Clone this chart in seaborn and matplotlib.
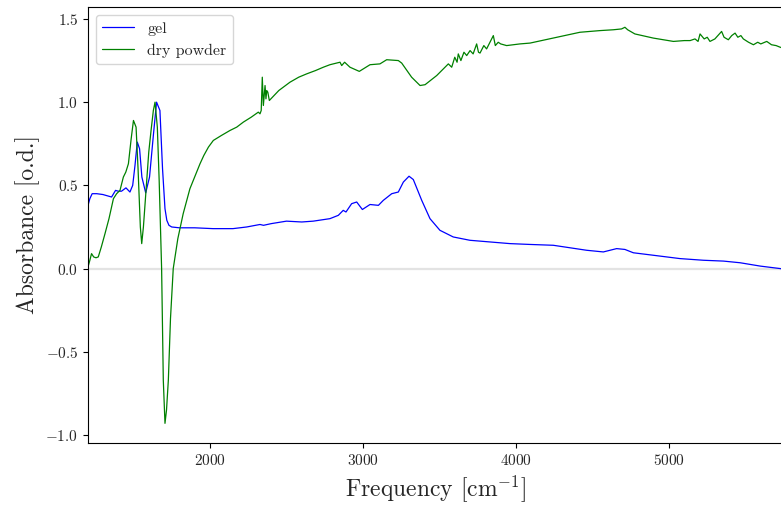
import matplotlib
matplotlib.use("Agg")
import matplotlib.pyplot as plt
import seaborn as sns
import pandas as pd

gel_x = [1203, 1215, 1230, 1260, 1300, 1357, 1383, 1400, 1422, 1451, 1477, 1495, 1510, 1525, 1540,
         1555, 1580, 1605, 1630, 1651, 1673, 1690, 1706, 1718, 1732, 1750, 1800, 1900, 2020, 2150, 2240,
         2327, 2350, 2400, 2500, 2600, 2675, 2784, 2839, 2871, 2889, 2926, 2959, 2996, 3046, 3101,
         3133, 3188, 3231, 3264, 3301, 3329, 3384, 3438, 3503, 3590, 3699, 3830, 3961, 4092, 4244,
         4462, 4571, 4658, 4712, 4767, 4898, 5072, 5225, 5356, 5465, 5596, 5727, 5760]
gel_y = [0.38, 0.42, 0.45, 0.45, 0.445, 0.43, 0.47, 0.465, 0.465, 0.485, 0.46, 0.50, 0.62, 0.76, 0.72,
         0.55, 0.455, 0.55, 0.80, 1.0, 0.95, 0.60, 0.36, 0.29, 0.26, 0.25, 0.245, 0.245, 0.24, 0.24, 0.25,
         0.265, 0.26, 0.27, 0.285, 0.28, 0.285, 0.30, 0.32, 0.35, 0.34, 0.39, 0.40, 0.355, 0.385, 0.38,
         0.41, 0.45, 0.46, 0.52, 0.555, 0.535, 0.41, 0.30, 0.23, 0.19, 0.17, 0.16, 0.15, 0.145, 0.14,
         0.11, 0.10, 0.12, 0.115, 0.095, 0.08, 0.06, 0.05, 0.045, 0.035, 0.015, 0.0, -0.005]

dry_x = [1203, 1215, 1226, 1240, 1255, 1270, 1290, 1314, 1340, 1369, 1390, 1412, 1434, 1450, 1467,
         1485, 1500, 1517, 1530, 1545, 1554, 1565, 1587, 1600, 1615, 1630, 1641, 1656, 1668, 1684,
         1695, 1706, 1716, 1728, 1742, 1760, 1790, 1825, 1869, 1891, 1935, 1960, 1990, 2022, 2075, 2131,
         2175, 2218, 2270, 2316, 2327, 2335, 2342, 2349, 2355, 2360, 2366, 2371, 2378, 2388, 2450,
         2523, 2580, 2632, 2690, 2741, 2784, 2828, 2850, 2861, 2880, 2915, 2976, 3046, 3111, 3155, 3231, 3253,
         3318, 3373, 3406, 3482, 3558, 3580, 3600, 3615, 3623, 3640, 3660, 3678, 3700, 3720, 3743,
         3755, 3765, 3790, 3808, 3830, 3852, 3865, 3884, 3900, 3939, 4026, 4092, 4244, 4418, 4549,
         4636, 4690, 4712, 4730, 4777, 4898, 5029, 5100, 5138, 5170, 5190, 5203, 5230, 5250, 5268,
         5300, 5344, 5360, 5388, 5410, 5432, 5450, 5470, 5486, 5520, 5552, 5580, 5600, 5639, 5670,
         5700, 5727, 5760]
dry_y = [0.01, 0.05, 0.09, 0.07, 0.065, 0.07, 0.13, 0.21, 0.30, 0.42, 0.45, 0.47, 0.55, 0.58, 0.63,
         0.78, 0.89, 0.85, 0.60, 0.25, 0.15, 0.25, 0.53, 0.70, 0.83, 0.95, 1.0, 0.85, 0.53, 0.0,
         -0.67, -0.93, -0.85, -0.67, -0.30, 0.0, 0.18, 0.33, 0.48, 0.53, 0.63, 0.68, 0.73, 0.77, 0.80, 0.83,
         0.85, 0.88, 0.91, 0.94, 0.93, 0.95, 1.15, 0.98, 1.05, 1.10, 1.02, 1.07, 1.06, 1.01, 1.07,
         1.12, 1.15, 1.17, 1.19, 1.21, 1.225, 1.235, 1.24, 1.22, 1.24, 1.21, 1.185, 1.225, 1.23, 1.255, 1.25, 1.235,
         1.15, 1.10, 1.105, 1.16, 1.23, 1.21, 1.27, 1.24, 1.29, 1.25, 1.30, 1.28, 1.31, 1.29, 1.35,
         1.30, 1.295, 1.34, 1.32, 1.36, 1.40, 1.34, 1.36, 1.35, 1.34, 1.35, 1.355, 1.385, 1.42, 1.43,
         1.435, 1.44, 1.45, 1.435, 1.41, 1.385, 1.365, 1.37, 1.37, 1.38, 1.365, 1.41, 1.38, 1.39, 1.365,
         1.38, 1.425, 1.39, 1.375, 1.40, 1.415, 1.39, 1.40, 1.38, 1.36, 1.345, 1.36, 1.35, 1.365, 1.345,
         1.34, 1.33, 1.32]

labels = ["gel", "dry powder"]
colors = ["blue", "green"]

sns.set_style("ticks")
plt.rcParams["font.family"] = ["cmr10", "DejaVu Serif"]
plt.rcParams["mathtext.fontset"] = "cm"
plt.rcParams["axes.formatter.use_mathtext"] = True
plt.rcParams["axes.unicode_minus"] = True

df = pd.concat([
    pd.DataFrame({"x": gel_x, "y": gel_y, "sample": labels[0]}),
    pd.DataFrame({"x": dry_x, "y": dry_y, "sample": labels[1]}),
])

fig = plt.figure(figsize=(7.81, 5.05), dpi=100)
ax = fig.add_axes([0.1127, 0.1228, 0.8908, 0.8634])
ax.axhline(0, color="#e3e3e3", lw=1.6, zorder=0)
sns.lineplot(data=df, x="x", y="y", hue="sample", palette=dict(zip(labels, colors)),
             estimator=None, sort=True, lw=0.9, ax=ax)

ax.set_xlim(1203, 5750)
ax.set_ylim(-1.048, 1.572)
ax.set_xticks([2000, 3000, 4000, 5000])
ax.set_yticks([-1.0, -0.5, 0.0, 0.5, 1.0, 1.5])
ax.tick_params(labelsize=11, direction="out", length=3.5, width=0.8, color="black")
for s in ax.spines.values():
    s.set_color("black")
    s.set_linewidth(0.8)
ax.set_xlabel(r"Frequency [cm$^{-1}$]", fontsize=17)
ax.set_ylabel("Absorbance [o.d.]", fontsize=17)
leg = ax.legend(loc="upper left", fontsize=11.5, frameon=True, title=None)
leg.get_frame().set_edgecolor("#cccccc")

fig.savefig("out.png", dpi=100)
